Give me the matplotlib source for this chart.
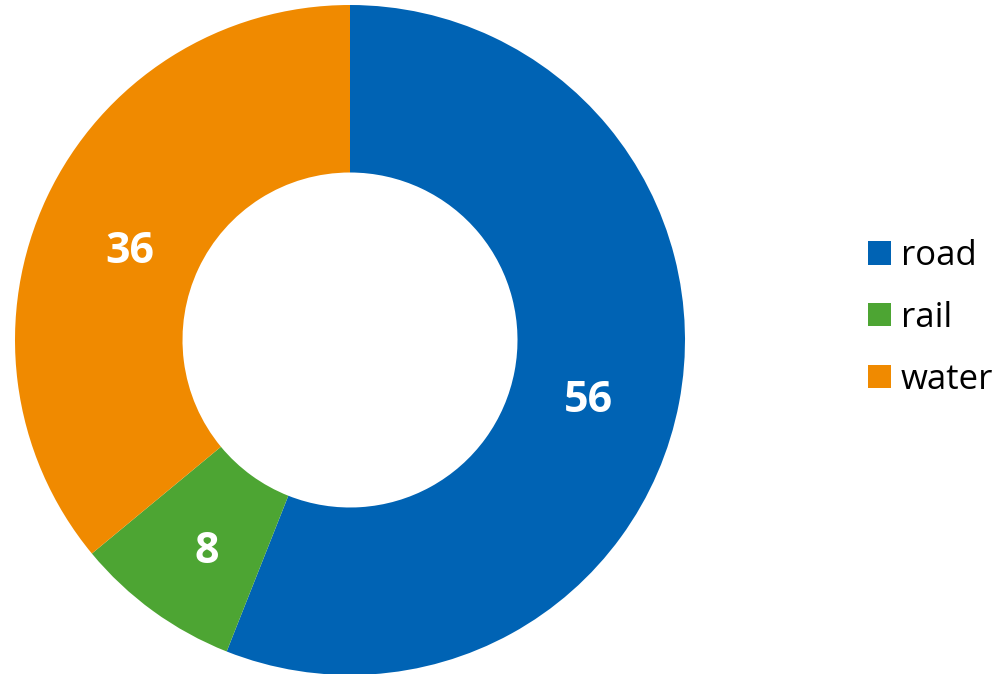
import numpy as np
import matplotlib
matplotlib.use("Agg")
from matplotlib import pyplot as plt
from matplotlib.patches import Patch

categories = ["road", "rail", "water"]
values = [56, 8, 36]
colors = ["#0063B4", "#4DA533", "#F08A00"]

plt.rcParams['font.family'] = ['Open Sans', 'DejaVu Sans']

fig = plt.figure(figsize=(10.08, 6.74), dpi=100)
cx, cy, r = 350, 340, 335
ax = fig.add_axes([(cx - r) / 1008, (674 - cy - r) / 674, 2 * r / 1008, 2 * r / 674])

wedges, _ = ax.pie(values, colors=colors, startangle=90, counterclock=False,
                   radius=1, wedgeprops=dict(width=0.5, linewidth=0))
ax.set_xlim(-1, 1)
ax.set_ylim(-1, 1)
ax.set_aspect('equal')
ax.axis('off')

for w, v in zip(wedges, values):
    ang = np.deg2rad((w.theta1 + w.theta2) / 2)
    ax.text(0.725 * np.cos(ang), 0.725 * np.sin(ang) - 0.045, str(v), ha='center', va='center',
            color='white', fontsize=31, fontweight='bold')

handles = [Patch(facecolor=c, edgecolor='none') for c in colors]
fig.legend(handles, categories, loc='center left', bbox_to_anchor=(868 / 1008, 1 - 318 / 674),
           frameon=False, fontsize=25, handlelength=0.65, handleheight=0.65,
           handletextpad=0.3, labelspacing=0.8, borderpad=0, borderaxespad=0)

fig.savefig("out.png", dpi=100)
